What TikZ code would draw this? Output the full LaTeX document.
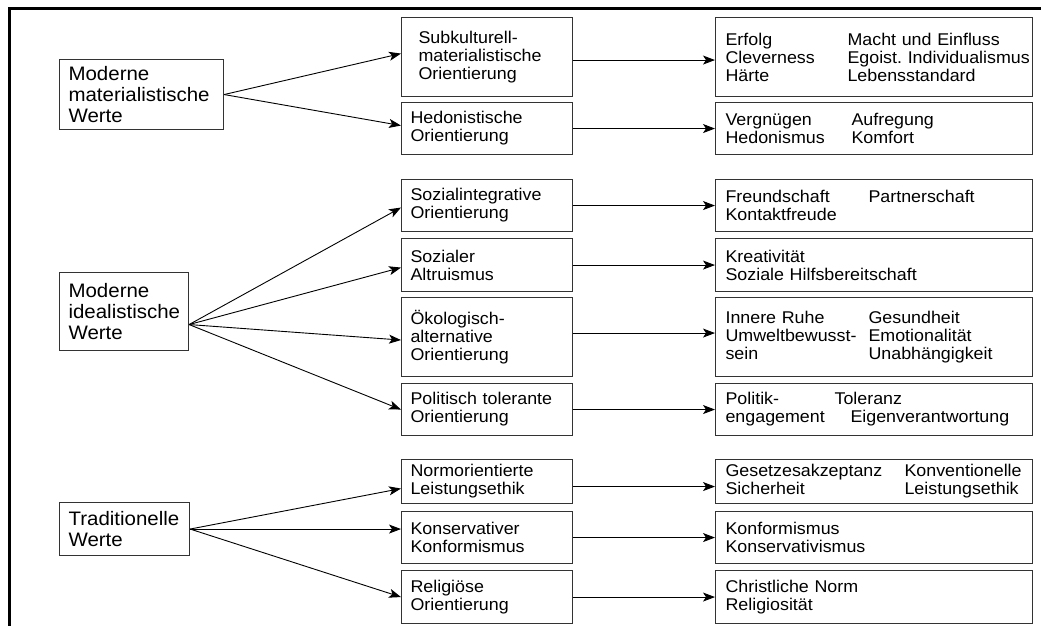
\documentclass[tikz,border=0pt]{standalone}
\usepackage{fontspec}
\newfontfamily\arialx{Liberation Sans}[FakeStretch=1.05]
\usepackage{tikz}
\usetikzlibrary{arrows.meta}
\newcommand{\zwei}[3]{\makebox[#1][l]{#2}\mbox{#3}}
\frenchspacing

\begin{document}
\begin{tikzpicture}[x=1pt,y=-1pt,
  wertbox/.style={draw=black!80, line width=1.1pt, anchor=north west, align=left,
    inner xsep=9pt, inner ysep=0pt, font=\arialx\fontsize{19.5pt}{21pt}\selectfont},
  orientbox/.style={draw=black!80, line width=1.1pt, anchor=north west, align=left,
    inner xsep=9pt, inner ysep=0pt, text width=153pt,
    font=\arialx\fontsize{17pt}{18pt}\selectfont},
  itembox/.style={draw=black!80, line width=1.1pt, anchor=north west, align=left,
    inner xsep=10pt, inner ysep=0pt, text width=297pt,
    font=\arialx\fontsize{17pt}{18pt}\selectfont},
  pfeil/.style={-{Stealth[length=12pt,width=9pt,inset=3pt]}, line width=0.9pt}]
\useasboundingbox (0,0) rectangle (1041,626);
\draw[line width=3pt] (9.5,626) -- (9.5,8.5) -- (1041,8.5);

% Wertetypen
\node[wertbox, text width=146pt, minimum height=70pt] (mat) at (59,59) {Moderne\\materialistische\\Werte};
\node[wertbox, text width=111pt, minimum height=78pt] (ideal) at (59,272) {Moderne\\idealistische\\Werte};
\node[wertbox, text width=112pt, minimum height=53pt] (trad) at (59,502) {Traditionelle\\Werte};

% Orientierungen
\node[orientbox, minimum height=79pt, inner xsep=17pt, text width=137pt] (sub) at (401,17) {Subkulturell-\\materialistische\\Orientierung};
\node[orientbox, minimum height=52pt] (hed) at (401,102) {Hedonistische\\Orientierung};
\node[orientbox, minimum height=52pt] (sozint) at (401,179) {Sozialintegrative\\Orientierung};
\node[orientbox, minimum height=53pt] (altr) at (401,238) {Sozialer\\Altruismus};
\node[orientbox, minimum height=79pt] (oeko) at (401,297) {Ökologisch-\\alternative\\Orientierung};
\node[orientbox, minimum height=52pt] (pol) at (401,383) {Politisch tolerante\\Orientierung};
\node[orientbox, minimum height=44pt] (norm) at (401,459) {Normorientierte\\Leistungsethik};
\node[orientbox, minimum height=52pt] (kons) at (401,511) {Konservativer\\Konformismus};
\node[orientbox, minimum height=53pt] (rel) at (401,570) {Religiöse\\Orientierung};

% Einzelwerte
\node[itembox, minimum height=79pt] (erfolg) at (715,17) {\zwei{122pt}{Erfolg}{Macht und Einfluss}\\\zwei{122pt}{Cleverness}{Egoist. Individualismus}\\\zwei{122pt}{Härte}{Lebensstandard}};
\node[itembox, minimum height=52pt] (vergn) at (715,102) {\zwei{126pt}{Vergnügen}{Aufregung}\\\zwei{126pt}{Hedonismus}{Komfort}};
\node[itembox, minimum height=52pt] (freund) at (715,179) {\zwei{143pt}{Freundschaft}{Partnerschaft}\\Kontaktfreude};
\node[itembox, minimum height=53pt] (kreat) at (715,238) {Kreativität\\Soziale Hilfsbereitschaft};
\node[itembox, minimum height=79pt] (ruhe) at (715,297) {\zwei{143pt}{Innere Ruhe}{Gesundheit}\\\zwei{143pt}{Umweltbewusst-}{Emotionalität}\\\zwei{143pt}{sein}{Unabhängigkeit}};
\node[itembox, minimum height=52pt] (politik) at (715,383) {\zwei{109pt}{Politik-}{Toleranz}\\\zwei{125pt}{engagement}{Eigenverantwortung}};
\node[itembox, minimum height=44pt] (gesetz) at (715,459) {\zwei{179pt}{Gesetzesakzeptanz}{Konventionelle}\\\zwei{179pt}{Sicherheit}{Leistungsethik}};
\node[itembox, minimum height=52pt] (konform) at (715,511) {Konformismus\\Konservativismus};
\node[itembox, minimum height=53pt] (christ) at (715,570) {Christliche Norm\\Religiosität};

% Pfeile links
\draw[pfeil] (mat.east) -- ([yshift=3.5pt]sub.west);
\draw[pfeil] (mat.east) -- ([yshift=3pt]hed.west);
\draw[pfeil] ([yshift=-13pt]ideal.east) -- ([yshift=-2pt]sozint.west);
\draw[pfeil] ([yshift=-13pt]ideal.east) -- ([yshift=-2.5pt]altr.west);
\draw[pfeil] ([yshift=-13pt]ideal.east) -- ([yshift=-3pt]oeko.west);
\draw[pfeil] ([yshift=-13pt]ideal.east) -- (pol.west);
\draw[pfeil] (trad.east) -- ([yshift=-7pt]norm.west);
\draw[pfeil] (trad.east) -- (trad.east -| kons.west);
\draw[pfeil] (trad.east) -- (rel.west);

% Pfeile rechts
\draw[pfeil] ([yshift=-3pt]sub.east) -- ([yshift=-3pt]erfolg.west);
\draw[pfeil] (hed.east) -- (vergn.west);
\draw[pfeil] (sozint.east) -- (freund.west);
\draw[pfeil] (altr.east) -- (kreat.west);
\draw[pfeil] ([yshift=4pt]oeko.east) -- ([yshift=4pt]ruhe.west);
\draw[pfeil] (pol.east) -- (politik.west);
\draw[pfeil] ([yshift=-5pt]norm.east) -- ([yshift=-5pt]gesetz.west);
\draw[pfeil] (kons.east) -- (konform.west);
\draw[pfeil] (rel.east) -- (christ.west);
\end{tikzpicture}
\end{document}
